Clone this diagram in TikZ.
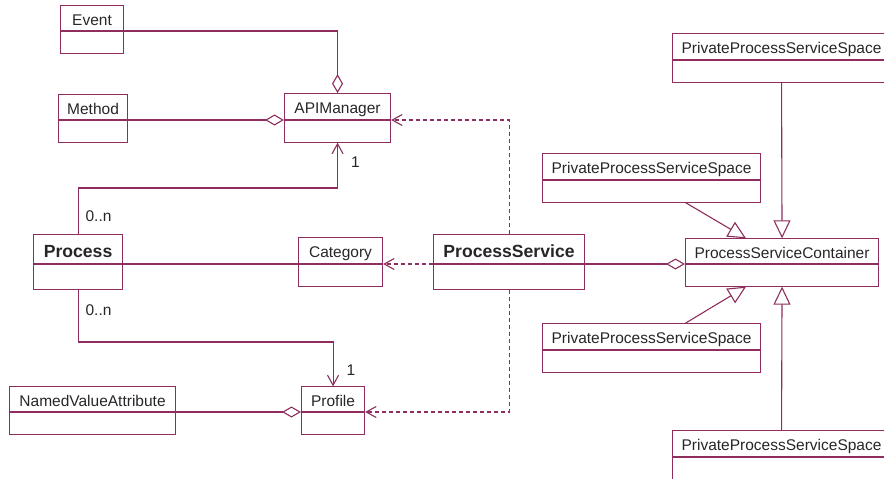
\documentclass[tikz,border=0pt]{standalone}
\usepackage{fontspec}
\setmainfont{Liberation Sans}
\usetikzlibrary{positioning,arrows.meta,shapes.multipart}
\usepackage{xcolor}
\definecolor{umlline}{HTML}{8E2D5E}
\definecolor{umltext}{HTML}{262626}

\tikzset{
  umlclass/.style={rectangle split,rectangle split parts=2,draw=umlline,line width=1.1pt,
    anchor=text split west,inner xsep=4pt,inner ysep=3pt,text=umltext,
    font=\fontsize{15.5}{18}\selectfont,execute at begin node=\rule[-2pt]{0pt}{18pt},
    rectangle split empty part height=15pt},
  umlmain/.style={umlclass,font=\fontsize{17.6}{20}\selectfont\bfseries,
    execute at begin node=\rule[-3pt]{0pt}{22pt},
    rectangle split empty part height=18pt},
  assoc/.style={draw=umlline,line width=1.1pt},
  depend/.style={assoc,dash pattern=on 4pt off 3pt},
  aggr/.style={-{Diamond[open,length=19pt,width=11pt]}},
  navig/.style={-{Straight Barb[length=10pt,width=11pt]}},
  inherit/.style={-{Triangle[open,length=18pt,width=17pt]}},
  mult/.style={text=umltext,font=\fontsize{15.5}{18}\selectfont,inner sep=1pt}
}

\begin{document}
\begin{tikzpicture}[x=1pt,y=-1pt]
  \useasboundingbox (0,0) rectangle (884,479);
  \begin{scope}
  \clip (0,0) rectangle (884,479);

  % classes (placed at the left end of their divider)
  \node[umlclass,minimum width=63pt] (event) at (60,31) {Event};
  \node[umlclass,minimum width=69pt] (method) at (58,120) {Method};
  \node[umlclass,minimum width=106pt] (api) at (284,120) {APIManager};
  \node[umlmain,minimum width=89pt] (process) at (33,264) {Process};
  \node[umlclass,minimum width=84pt] (category) at (298,264) {Category};
  \node[umlmain,minimum width=151pt] (service) at (433,264) {ProcessService};
  \node[umlclass,minimum width=63pt] (profile) at (301,412) {Profile};
  \node[umlclass,minimum width=166pt] (nva) at (9,412) {NamedValueAttribute};
  \node[umlclass,minimum width=193pt] (container) at (685,264) {ProcessServiceContainer};
  \node[umlclass,minimum width=218pt] (ppssA) at (672,60) {PrivateProcessServiceSpace};
  \node[umlclass,minimum width=218pt] (ppssB) at (542,180) {PrivateProcessServiceSpace};
  \node[umlclass,minimum width=218pt] (ppssC) at (542,350) {PrivateProcessServiceSpace};
  \node[umlclass,minimum width=218pt] (ppssD) at (672,457) {PrivateProcessServiceSpace};

  % aggregations
  \draw[assoc,aggr] (event.text split east) -| (api.north);
  \draw[assoc,aggr] (method.text split east) -- (api.text split west);
  \draw[assoc,aggr] (nva.text split east) -- (profile.text split west);
  \draw[assoc,aggr] (service.text split east) -- (container.text split west);

  % associations
  \draw[assoc,navig] (process.north) -- node[mult,right=6pt,pos=0.4] (m1) {0..n} (process.north |- 0,188)
    -| node[mult,right=12pt,pos=0.79] (m2) {1} (api.south);
  \draw[assoc,navig] (process.south) -- node[mult,right=6pt,pos=0.4] (m3) {0..n} (process.south |- 0,342)
    -| node[mult,right=12pt,pos=0.815] (m4) {1} (profile.north);
  \draw[assoc] (process.text split east) -- (category.text split west);

  % dependencies
  \draw[depend,navig] (service.text split west) -- (category.text split east);
  \draw[depend,navig] (service.north) |- (api.text split east);
  \draw[depend,navig] (service.south) |- (profile.text split east);

  % generalizations
  \draw[assoc,inherit] (ppssA.south) -- (container.north);
  \draw[assoc,inherit] ([xshift=34pt]ppssB.south) -- ([xshift=-36pt]container.north);
  \draw[assoc,inherit] ([xshift=34pt]ppssC.north) -- ([xshift=-36pt]container.south);
  \draw[assoc,inherit] (ppssD.north) -- (container.south);
  \end{scope}
\end{tikzpicture}
\end{document}
